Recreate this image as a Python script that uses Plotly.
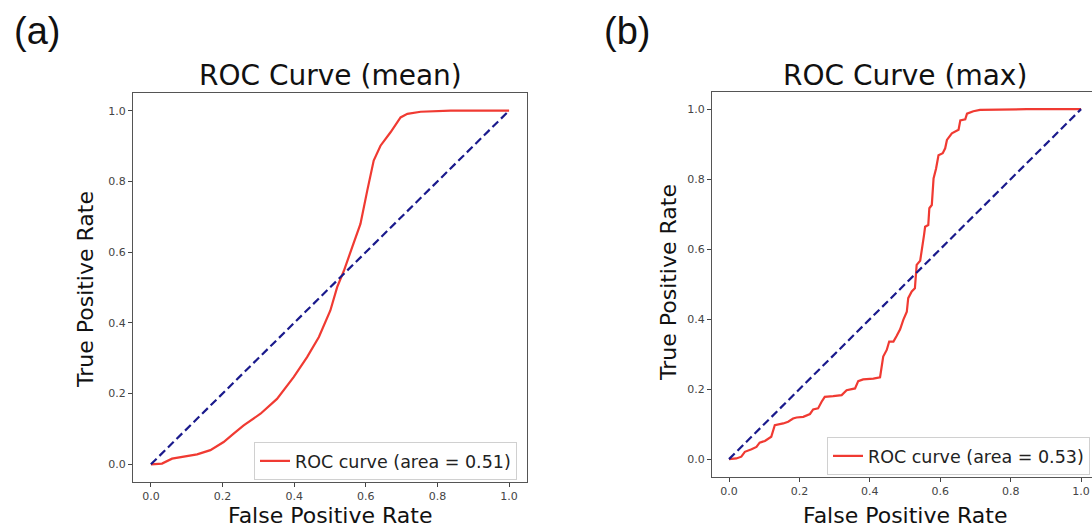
import plotly.graph_objects as go

W, H = 1092, 531

# Panel (a): ROC curve (mean)
fpr_mean = [0.0, 0.031, 0.059, 0.10, 0.129, 0.166, 0.203, 0.231, 0.259, 0.306, 0.352,
            0.399, 0.436, 0.469, 0.501, 0.520, 0.539, 0.562, 0.585, 0.604, 0.622,
            0.641, 0.669, 0.697, 0.716, 0.753, 0.837, 1.0]
tpr_mean = [0.0, 0.002, 0.016, 0.024, 0.028, 0.040, 0.063, 0.087, 0.110, 0.143, 0.185,
            0.247, 0.303, 0.360, 0.435, 0.501, 0.548, 0.614, 0.680, 0.774, 0.859,
            0.901, 0.939, 0.981, 0.991, 0.997, 1.0, 1.0]

# Panel (b): ROC curve (max)
fpr_max = [0.0, 0.021, 0.035, 0.045, 0.064, 0.078, 0.087, 0.102, 0.120, 0.130, 0.154,
           0.168, 0.182, 0.192, 0.211, 0.230, 0.239, 0.253, 0.263, 0.272, 0.296,
           0.320, 0.334, 0.358, 0.367, 0.381, 0.410, 0.429, 0.438, 0.448, 0.455,
           0.467, 0.476, 0.486, 0.495, 0.505, 0.509, 0.519, 0.528, 0.533, 0.543,
           0.549, 0.554, 0.557, 0.566, 0.569, 0.576, 0.581, 0.588, 0.595, 0.607,
           0.614, 0.619, 0.633, 0.652, 0.657, 0.671, 0.676, 0.694, 0.713, 0.846, 1.0]
tpr_max = [0.0, 0.002, 0.007, 0.021, 0.028, 0.035, 0.047, 0.052, 0.064, 0.097, 0.102,
           0.107, 0.116, 0.119, 0.121, 0.129, 0.142, 0.145, 0.164, 0.178, 0.180,
           0.183, 0.197, 0.202, 0.223, 0.228, 0.230, 0.234, 0.293, 0.312, 0.336,
           0.336, 0.352, 0.371, 0.398, 0.421, 0.460, 0.479, 0.488, 0.555, 0.567,
           0.617, 0.641, 0.664, 0.669, 0.717, 0.726, 0.802, 0.830, 0.868, 0.874,
           0.888, 0.912, 0.931, 0.941, 0.968, 0.971, 0.987, 0.994, 0.998, 1.0, 1.0]

diag = [0.0, 1.0]
tick_vals = [0.0, 0.2, 0.4, 0.6, 0.8, 1.0]
tick_text = ["0.0", "0.2", "0.4", "0.6", "0.8", "1.0"]
titles = ["ROC Curve (mean)", "ROC Curve (max)"]
legend_names = ["ROC curve (area = 0.51)", "ROC curve (area = 0.53)"]
panel_labels = ["(a)", "(b)"]

RED = "#f03a32"
NAVY = "#1a1a8c"
FONT = "DejaVu Sans"

fig = go.Figure()
fig.add_trace(go.Scatter(x=fpr_mean, y=tpr_mean, mode="lines", name=legend_names[0],
                         line=dict(color=RED, width=2.2), xaxis="x", yaxis="y", legend="legend"))
fig.add_trace(go.Scatter(x=diag, y=diag, mode="lines", showlegend=False,
                         line=dict(color=NAVY, width=2.2, dash="8px,4px"), xaxis="x", yaxis="y"))
fig.add_trace(go.Scatter(x=fpr_max, y=tpr_max, mode="lines", name=legend_names[1],
                         line=dict(color=RED, width=2.2, shape="linear"), xaxis="x2", yaxis="y2", legend="legend2"))
fig.add_trace(go.Scatter(x=diag, y=diag, mode="lines", showlegend=False,
                         line=dict(color=NAVY, width=2.2, dash="8px,4px"), xaxis="x2", yaxis="y2"))

def px_x(p):
    return p / W

def px_y(p):
    return (H - p) / H

axis_common = dict(
    tickvals=tick_vals, ticktext=tick_text, ticks="outside", ticklen=4, tickwidth=1,
    tickcolor="#444", showgrid=False, zeroline=False, showline=True, linecolor="#555",
    linewidth=1, tickfont=dict(family=FONT, size=11, color="#444"),
)

fig.update_layout(
    width=W, height=H, margin=dict(l=0, r=0, t=0, b=0),
    paper_bgcolor="white", plot_bgcolor="white",
    xaxis=dict(domain=[px_x(133), px_x(527)], range=[-0.05, 1.05], anchor="y", mirror=True, **axis_common),
    yaxis=dict(domain=[px_y(482), px_y(93)], range=[-0.05, 1.05], anchor="x", mirror=True, **axis_common),
    xaxis2=dict(domain=[px_x(712), 1.0], range=[-0.0483, 1.031], anchor="y2", mirror=True, **axis_common),
    yaxis2=dict(domain=[px_y(477), px_y(92)], range=[-0.051, 1.049], anchor="x2", mirror=False, **axis_common),
    legend=dict(x=px_x(517), xanchor="right", y=px_y(442), yanchor="top",
                bgcolor="white", bordercolor="#d0d0d0", borderwidth=1,
                font=dict(family=FONT, size=17.5, color="#222")),
    legend2=dict(x=px_x(1090), xanchor="right", y=px_y(437), yanchor="top",
                 bgcolor="white", bordercolor="#d0d0d0", borderwidth=1,
                 font=dict(family=FONT, size=17.5, color="#222")),
)

ann = []
# titles
for cx, txt in [(330, titles[0]), (905, titles[1])]:
    ann.append(dict(x=px_x(cx), y=px_y(75), xref="paper", yref="paper", text=txt, showarrow=False,
                    xanchor="center", yanchor="middle", font=dict(family=FONT, size=28, color="#111")))
# x axis titles
for cx in [330, 905]:
    ann.append(dict(x=px_x(cx), y=px_y(515), xref="paper", yref="paper", text="False Positive Rate",
                    showarrow=False, xanchor="center", yanchor="middle",
                    font=dict(family=FONT, size=22, color="#111")))
# y axis titles
for cx, cy in [(86, 290), (668, 283)]:
    ann.append(dict(x=px_x(cx), y=px_y(cy), xref="paper", yref="paper", text="True Positive Rate",
                    showarrow=False, xanchor="center", yanchor="middle", textangle=-90,
                    font=dict(family=FONT, size=22, color="#111")))
# panel labels
for cx, txt in [(37, panel_labels[0]), (627, panel_labels[1])]:
    ann.append(dict(x=px_x(cx), y=px_y(31), xref="paper", yref="paper", text=txt, showarrow=False,
                    xanchor="center", yanchor="middle",
                    font=dict(family="Liberation Sans", size=38, color="#111")))
fig.update_layout(annotations=ann)

fig.write_html("out.html", config={"displayModeBar": False},
               post_script="document.body.style.margin='0';document.body.style.overflow='hidden';")
